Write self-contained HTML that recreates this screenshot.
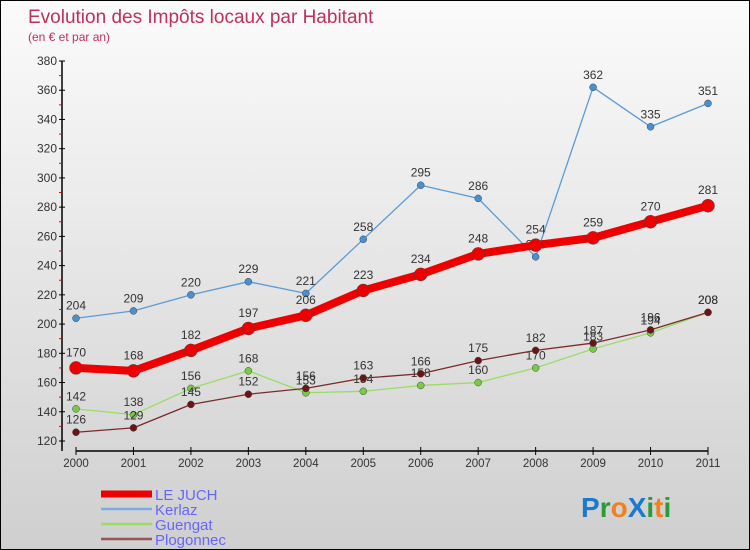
<!DOCTYPE html>
<html><head><meta charset="utf-8"><style>
body{margin:0}
#wrap{width:748px;height:548px;border:1px solid #000;background:linear-gradient(#fbfbfb,#cfcfcf);position:relative;font-family:"Liberation Sans",sans-serif;overflow:hidden}
svg{position:absolute;left:0;top:0}
</style></head><body>
<div id="wrap">
<svg id="c" width="750" height="550"></svg>
</div>
<script>
const years=[2000,2001,2002,2003,2004,2005,2006,2007,2008,2009,2010,2011];
const leJuch=[170,168,182,197,206,223,234,248,254,259,270,281];
const kerlaz=[204,209,220,229,221,258,295,286,246,362,335,351];
const guengat=[142,138,156,168,153,154,158,160,170,183,194,208];
const plogonnec=[126,129,145,152,156,163,166,175,182,187,196,208];
const yTicks=[120,140,160,180,200,220,240,260,280,300,320,340,360,380];
const NS="http://www.w3.org/2000/svg";
const svg=document.getElementById('c');
const X=i=>75+i*(707-75)/11;
const Y=v=>440-(v-120)*(380/260);
function el(t,a,p){const e=document.createElementNS(NS,t);for(const k in a)e.setAttribute(k,a[k]);(p||svg).appendChild(e);return e;}
function txt(x,y,s,a){const e=el('text',Object.assign({x:x,y:y},a));e.textContent=s;return e;}
const t1=txt(27,22,"Evolution des Impôts locaux par Habitant",{fill:"#c0305a","font-size":19});

const t2=txt(27,40,"(en € et par an)",{fill:"#c0305a","font-size":12});

// axes
const ya=el('line',{x1:61,y1:Y(380),x2:61,y2:450,stroke:"#000","stroke-width":1.5});

const xa=el('line',{x1:75,y1:450,x2:707,y2:450,stroke:"#000","stroke-width":1.5});

yTicks.forEach(v=>{
 el('line',{x1:58,y1:Y(v),x2:64,y2:Y(v),stroke:"#000"});
 if(v<380)el('line',{x1:58,y1:Y(v+10),x2:61,y2:Y(v+10),stroke:"#e00"});
 const t=txt(56,Y(v)+4,String(v),{"text-anchor":"end","font-size":12,fill:"#333"});
 
});
years.forEach((y,i)=>{
 el('line',{x1:X(i),y1:446,x2:X(i),y2:454,stroke:"#000"});
 const t=txt(X(i),466,String(y),{"text-anchor":"middle","font-size":11.5,fill:"#333"});
 
});
function series(data,color,dot,w,r,name){
 const g=el('g',{});
 
 el('polyline',{points:data.map((v,i)=>X(i)+","+Y(v)).join(" "),fill:"none",stroke:color,"stroke-width":w,"stroke-linejoin":"round"},g);
 data.forEach((v,i)=>{
  const c=el('circle',{cx:X(i),cy:Y(v),r:r,fill:dot,stroke:"#444","stroke-width":0.5},g);
  
  const t=txt(X(i),Y(v)-r-5,String(v),{"text-anchor":"middle","font-size":12,fill:"#333"},g);
  
 });
}
series(kerlaz,"#5b9bd5","#4a90d0",1.3,3.5,"kerlaz");
series(guengat,"#99dd66","#77cc44",1.3,3.5,"guengat");
series(plogonnec,"#7a2a2a","#6a1515",1.3,3.5,"plogonnec");
series(leJuch,"#ee0000","#ee0000",8,6.5,"le-juch");
// legend
const leg=[["LE JUCH","#ee0000",7],["Kerlaz","#7aaee0",2.5],["Guengat","#99dd66",2.5],["Plogonnec","#995555",2.5]];
leg.forEach((l,i)=>{
 const y=493+i*15;
 const g=el('g',{});
 
 el('line',{x1:100,y1:y,x2:151,y2:y,stroke:l[1],"stroke-width":l[2]},g);
 txt(154,y+6,l[0],{"font-size":15,fill:"#6666ff"},g);
});
const lg=el('g',{});

const lt=el('text',{x:580,y:516,"font-size":28,"font-weight":"bold"},lg);
[["P","#1a7ad0"],["r","#2a9a3a"],["o","#f08020"],["X","#1a7ad0"],["i","#2a9a3a"],["t","#f08020"],["i","#2a9a3a"]].forEach(c=>{const s=el('tspan',{fill:c[1]},lt);s.textContent=c[0];});
</script>
</body></html>
